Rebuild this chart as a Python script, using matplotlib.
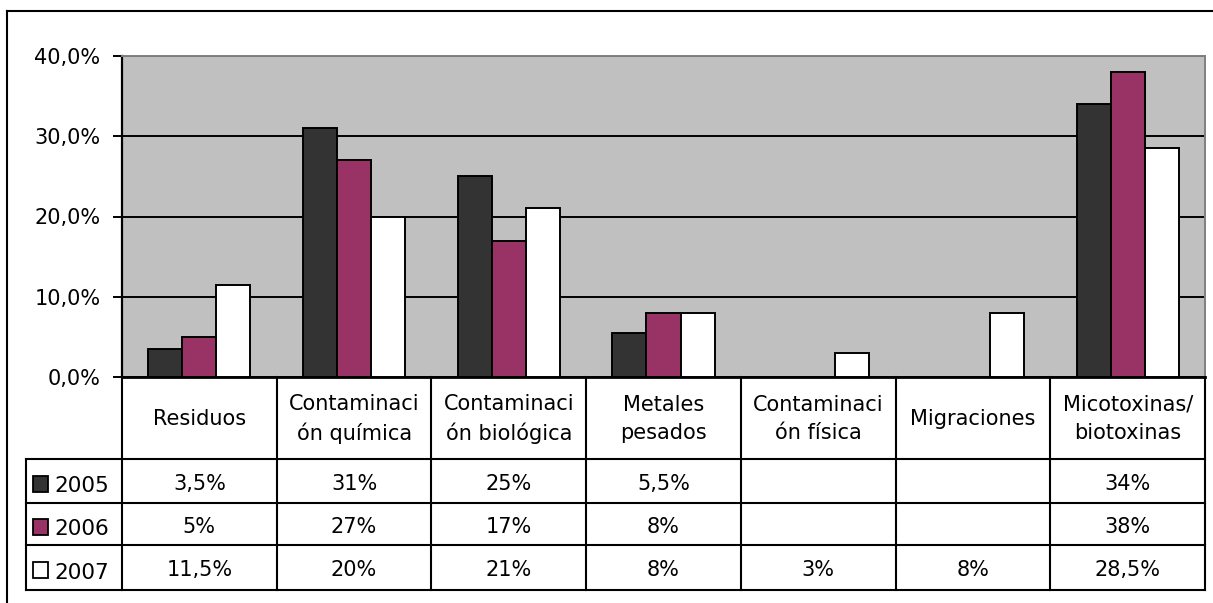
import matplotlib.pyplot as plt
import numpy as np
from matplotlib.patches import Rectangle
from matplotlib.lines import Line2D

categorias = ["Residuos", "Contaminaci\nón química", "Contaminaci\nón biológica",
              "Metales\npesados", "Contaminaci\nón física", "Migraciones",
              "Micotoxinas/\nbiotoxinas"]
anios = ["2005", "2006", "2007"]
v2005 = [3.5, 31, 25, 5.5, None, None, 34]
v2006 = [5, 27, 17, 8, None, None, 38]
v2007 = [11.5, 20, 21, 8, 3, 8, 28.5]
txt2005 = ["3,5%", "31%", "25%", "5,5%", "", "", "34%"]
txt2006 = ["5%", "27%", "17%", "8%", "", "", "38%"]
txt2007 = ["11,5%", "20%", "21%", "8%", "3%", "8%", "28,5%"]
yticks = [0, 10, 20, 30, 40]
ytick_labels = ["0,0%", "10,0%", "20,0%", "30,0%", "40,0%"]

colores = ["#333333", "#993366", "#FFFFFF"]
series = [v2005, v2006, v2007]
textos = [txt2005, txt2006, txt2007]

W, H = 1213, 603
fig = plt.figure(figsize=(W / 100, H / 100), dpi=100)
plt.rcParams['font.family'] = ['DejaVu Sans']
fs = 15

# outer frame (runs off the right / bottom edge like the original)
fig.add_artist(Line2D([7 / W, 7 / W], [0, 1 - 11 / H], transform=fig.transFigure, color="black", lw=1.5))
fig.add_artist(Line2D([7 / W, 1], [1 - 11 / H, 1 - 11 / H], transform=fig.transFigure, color="black", lw=1.5))

left, right, top, bottom = 122, 1205, 56, 377
ax = fig.add_axes([left / W, 1 - bottom / H, (right - left) / W, (bottom - top) / H])
ax.set_facecolor("#C0C0C0")
x = np.arange(len(categorias))
bw = 0.22
for i, vals in enumerate(series):
    h = [v if v is not None else 0 for v in vals]
    ax.bar(x + (i - 1) * bw, h, width=bw, color=colores[i], edgecolor="black", linewidth=1.4, zorder=3)
ax.set_xlim(-0.5, len(categorias) - 0.5)
ax.set_ylim(0, 40)
ax.set_yticks(yticks)
ax.set_yticklabels(ytick_labels, fontsize=fs)
ax.yaxis.grid(True, color="black", lw=1.4, zorder=1)
ax.set_xticks([])
ax.tick_params(axis="y", length=6.5, width=1.4, pad=9)
for s in ["top", "right"]:
    ax.spines[s].set_color("#808080")
    ax.spines[s].set_linewidth(1.4)
ax.spines["left"].set_linewidth(1.6)
ax.spines["bottom"].set_linewidth(2)

# data table below the chart
tb_bottom = 590
tax = fig.add_axes([left / W, 1 - tb_bottom / H, (right - left) / W, (tb_bottom - bottom) / H])
tax.set_xlim(-0.5, len(categorias) - 0.5)
row_edges = [0, 1.87, 2.87, 3.83, 4.85]
tax.set_ylim(row_edges[-1], 0)
tax.axis("off")
leg_left = -0.5 - (left - 26) / ((right - left) / len(categorias))
lw = 1.5
# vertical lines
for k in range(len(categorias) + 1):
    tax.plot([k - 0.5, k - 0.5], [0, row_edges[-1]], color="black", lw=lw, clip_on=False)
tax.plot([leg_left, leg_left], [row_edges[1], row_edges[-1]], color="black", lw=lw, clip_on=False)
# horizontal lines
for r in row_edges[1:]:
    tax.plot([leg_left, len(categorias) - 0.5], [r, r], color="black", lw=lw, clip_on=False)
# header labels
for k, c in enumerate(categorias):
    tax.text(k, row_edges[1] / 2 + 0.02, c, ha="center", va="center", fontsize=fs, linespacing=1.5)
# rows
for i, (a, tx) in enumerate(zip(anios, textos)):
    yc = (row_edges[i + 1] + row_edges[i + 2]) / 2
    for k, t in enumerate(tx):
        tax.text(k, yc + 0.06, t, ha="center", va="center", fontsize=fs)
    tax.add_patch(Rectangle((leg_left + 0.045, yc - 0.12), 0.1, 0.36, facecolor=colores[i],
                            edgecolor="black", lw=1.3, clip_on=False))
    tax.text(leg_left + 0.185, yc + 0.12, a, ha="left", va="center", fontsize=fs + 0.5)

fig.savefig("out.png", dpi=100)
